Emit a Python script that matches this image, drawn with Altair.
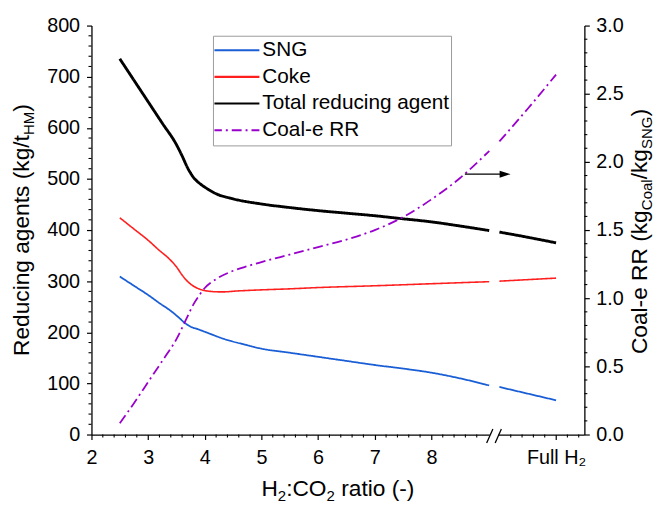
import altair as alt
import pandas as pd

# ---------------- data ----------------
series_names = ["SNG", "Coke", "Total reducing agent", "Coal-e RR"]
series_colors = ["#1a5ed6", "#ff1f1f", "#000000", "#9900cc"]
series_dashes = [[1, 0], [1, 0], [1, 0], [10, 4, 2, 4]]

sng_x = [2.5, 2.75, 3.0, 3.2, 3.41, 3.55, 3.64, 3.75, 3.88, 4.0, 4.34, 4.7, 5.0, 5.5, 6.0, 6.5, 7.0, 7.5, 8.0, 8.5, 9.02, 9.2, 10.2]
sng_y = [309, 291, 273, 257, 241, 228, 219, 211, 206, 201, 187, 176, 168, 160, 152, 144, 136, 129, 121, 110, 96, 93, 67]

coke_x = [2.5, 2.75, 3.0, 3.2, 3.35, 3.5, 3.6, 3.7, 3.82, 3.95, 4.1, 4.3, 4.6, 5.0, 5.5, 6.0, 7.0, 8.0, 9.02, 9.2, 10.2]
coke_y = [424, 402, 380, 360, 346, 328, 312, 299, 289, 283, 280, 279, 281, 283, 285, 287.5, 291, 295, 299, 300, 306]

total_x = [2.5, 2.75, 3.0, 3.25, 3.5, 3.6, 3.7, 3.8, 3.9, 4.0, 4.2, 4.5, 5.0, 5.5, 6.0, 6.5, 7.0, 7.5, 8.0, 8.5, 9.02, 9.2, 9.6, 10.2]
total_y = [735, 693, 651, 609, 567, 545, 521, 503, 492, 484, 471, 461, 451, 444, 438, 433, 428, 422, 416, 408, 399, 396, 388, 375]

rr_x = [2.5, 2.75, 3.0, 3.25, 3.5, 3.67, 3.8, 3.9, 4.0, 4.2, 4.46, 4.75, 5.0, 5.5, 6.0, 6.5, 7.0, 7.5, 8.0, 8.5, 9.02, 9.2, 9.7, 10.2]
rr_y = [0.083, 0.23, 0.385, 0.54, 0.70, 0.844, 0.955, 1.02, 1.075, 1.14, 1.194, 1.235, 1.265, 1.32, 1.375, 1.43, 1.50, 1.595, 1.725, 1.88, 2.08, 2.15, 2.39, 2.64]

# axis ticks / labels
x_domain = [2, 10.7]
x_major = [2, 3, 4, 5, 6, 7, 8, 10.2]
x_minor = [2.2, 2.4, 2.6, 2.8, 3.2, 3.4, 3.6, 3.8, 4.2, 4.4, 4.6, 4.8, 5.2, 5.4, 5.6, 5.8,
           6.2, 6.4, 6.6, 6.8, 7.2, 7.4, 7.6, 7.8, 8.2, 8.4, 8.6, 8.8,
           9.4, 9.6, 9.8, 10.0, 10.4, 10.6]
full_h2_label = "Full H\u2082"
break_at = 9.1
break_slashes = [9.03, 9.18]

yl_domain = [0, 800]
yl_major = [0, 100, 200, 300, 400, 500, 600, 700, 800]
yl_minor = [v for v in range(20, 800, 20) if v % 100 != 0]
yr_domain = [0, 3]
yr_major = [0, 0.5, 1.0, 1.5, 2.0, 2.5, 3.0]
yr_minor = [round(i * 0.1, 1) for i in range(1, 30) if i % 5 != 0]

arrow_x = [8.59, 9.3]
arrow_y = 1.91

# ---------------- layout ----------------
W, H = 499, 414
FONT = "Liberation Sans"

xscale = alt.Scale(domain=x_domain, nice=False, zero=False)
xaxis = alt.Axis(values=x_major, title=None, grid=False, tickSize=5, labelPadding=8,
                 labelFlush=False, labelOverlap=False,
                 labelExpr=f"datum.value > 9 ? '{full_h2_label}' : datum.label")
ylscale = alt.Scale(domain=yl_domain, nice=False, zero=False)
ylaxis = alt.Axis(values=yl_major, title=None, grid=False, tickSize=5, labelPadding=7,
                  labelFlush=False, labelOverlap=False)
yrscale = alt.Scale(domain=yr_domain, nice=False, zero=False)
yraxis = alt.Axis(values=yr_major, title=None, grid=False, tickSize=5, labelPadding=6.5,
                  labelFlush=False, labelOverlap=False, format=".1f", orient="right")

legend = alt.Legend(
    orient="none", legendX=123, legendY=10.3, title=None,
    symbolType="stroke", symbolSize=2304, symbolStrokeWidth=2.1, symbolOffset=-4,
    clipHeight=26.3, rowPadding=0, padding=1.5, labelOffset=1.5,
    labelFontSize=21, labelFont=FONT, labelColor="black", labelLimit=400,
    fillColor="white", strokeColor="#9a9a9a",
)
color = alt.Color("series:N", scale=alt.Scale(domain=series_names, range=series_colors), legend=legend)
dash = alt.StrokeDash("series:N", scale=alt.Scale(domain=series_names, range=series_dashes), legend=legend)


def series_df(name, xs, ys):
    return pd.DataFrame({"series": name, "x": xs, "val": ys,
                         "seg": [0 if v < break_at else 1 for v in xs]})


def line(df, yscale, yaxis, width):
    return alt.Chart(df).mark_line(strokeWidth=width, interpolate="monotone").encode(
        x=alt.X("x:Q", scale=xscale, axis=xaxis),
        y=alt.Y("val:Q", scale=yscale, axis=yaxis),
        color=color,
        strokeDash=dash,
        detail="seg:N",
    )


sng = line(series_df("SNG", sng_x, sng_y), ylscale, ylaxis, 1.8)
coke = line(series_df("Coke", coke_x, coke_y), ylscale, ylaxis, 1.6)
total = line(series_df("Total reducing agent", total_x, total_y), ylscale, ylaxis, 2.9)
rr = line(series_df("Coal-e RR", rr_x, rr_y), yrscale, yraxis, 1.8)

x_minor_ticks = alt.Chart(pd.DataFrame({"v": x_minor})).mark_rule(color="black", strokeWidth=1.1).encode(
    x=alt.X("v:Q", scale=xscale, axis=xaxis), y=alt.value(H), y2=alt.value(H + 3))
yl_minor_ticks = alt.Chart(pd.DataFrame({"v": yl_minor})).mark_rule(color="black", strokeWidth=1.1).encode(
    y=alt.Y("v:Q", scale=ylscale, axis=ylaxis), x=alt.value(0), x2=alt.value(-3))
yr_minor_ticks = alt.Chart(pd.DataFrame({"v": yr_minor})).mark_rule(color="black", strokeWidth=1.1).encode(
    y=alt.Y("v:Q", scale=yrscale, axis=yraxis), x=alt.value(W), x2=alt.value(W + 3))

# axis break: white gap + two slashes
gap_df = pd.DataFrame({"a": [break_slashes[0]], "b": [break_slashes[1]]})
gap = alt.Chart(gap_df).mark_rect(color="white").encode(
    x=alt.X("a:Q", scale=xscale, axis=xaxis), x2="b:Q", y=alt.value(H - 1.5), y2=alt.value(H + 1.5))
slash_df = pd.DataFrame({"c": break_slashes})
slashes = alt.Chart(slash_df).transform_calculate(a="datum.c - 0.055", b="datum.c + 0.055").mark_rule(
    color="black", strokeWidth=1.3).encode(
    x=alt.X("a:Q", scale=xscale, axis=xaxis), x2="b:Q", y=alt.value(H + 8.5), y2=alt.value(H - 5.5))

# arrow pointing to the right axis
arrow_df = pd.DataFrame({"x0": [arrow_x[0]], "x1": [arrow_x[1]], "y": [arrow_y]})
arrow_line = alt.Chart(arrow_df).mark_rule(color="black", strokeWidth=1.4).encode(
    x=alt.X("x0:Q", scale=xscale, axis=xaxis), x2="x1:Q",
    y=alt.Y("y:Q", scale=yrscale, axis=yraxis))
arrow_head = alt.Chart(arrow_df).mark_point(
    shape="M-1,-0.64L1,0L-1,0.64Z", filled=True, size=121, color="black", opacity=1, strokeWidth=0).encode(
    x=alt.X("x1:Q", scale=xscale, axis=xaxis), y=alt.Y("y:Q", scale=yrscale, axis=yraxis))

left = alt.layer(gap, slashes, x_minor_ticks, yl_minor_ticks, sng, coke, total)
right = alt.layer(yr_minor_ticks, rr, arrow_line, arrow_head)

# ---------------- titles with subscripts ----------------
WID = {"R": .722, "e": .556, "d": .556, "u": .556, "c": .5, "i": .222, "n": .556, "g": .556, " ": .278,
       "a": .556, "t": .278, "s": .5, "(": .333, ")": .333, "k": .5, "/": .278, "H": .722, "M": .833,
       "C": .722, "o": .556, "l": .222, "-": .333, "S": .667, "N": .722, "G": .778, "2": .556,
       ":": .278, "O": .778, "r": .333}


def title_layers(pieces, x, y, angle, fs):
    sub = 0.66 * fs
    widths = [sum(WID[c] for c in t) * (sub if s else fs) for t, s in pieces]
    total_len = sum(widths)
    out, off = [], -total_len / 2
    for (t, s), w in zip(pieces, widths):
        size = sub if s else fs
        lead = (len(t) - len(t.lstrip(" "))) * WID[" "] * size
        out.append(alt.Chart(pd.DataFrame({"t": [t.strip(" ")]})).mark_text(
            align="left", baseline="alphabetic", angle=angle, dx=off + lead, dy=(0.22 * fs if s else 0),
            fontSize=size, font=FONT, color="black").encode(
            x=alt.value(x), y=alt.value(y), text="t:N"))
        off += w
    return out


TFS = 23
ltitle = title_layers([("Reducing agents (kg/t", False), ("HM", True), (")", False)], -63.5, 207, 270, TFS)
rtitle = title_layers([("Coal-e RR (kg", False), ("Coal", True), ("/kg", False), ("SNG", True), (")", False)],
                      562, 208.5, 270, TFS)
xtitle = title_layers([("H", False), ("2", True), (":CO", False), ("2", True), (" ratio (-)", False)],
                      249.5, 476.3, 0, TFS)

chart = alt.layer(left, right, *ltitle, *rtitle, *xtitle).resolve_scale(y="independent").properties(
    width=W, height=H,
    autosize=alt.AutoSizeParams(type="none"),
    padding={"left": 84.5, "top": 14.7, "right": 72.5, "bottom": 72.3},
).configure_axis(
    labelFont=FONT, labelFontSize=20, labelColor="black", domainColor="black", tickColor="black",
    domainWidth=1.3, tickWidth=1.2, grid=False,
).configure_view(stroke=None)

chart.save("out.html", embed_options={"renderer": "svg", "actions": False})
